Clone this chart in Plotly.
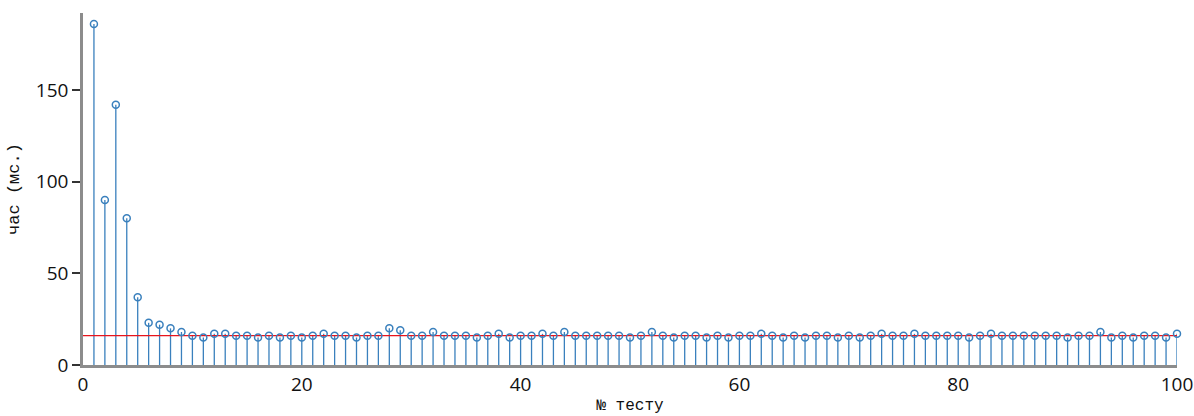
import plotly.graph_objects as go

test_no = list(range(1, 101))
time_ms = [186, 90, 142, 80, 37, 23, 22, 20, 18, 16,
           15, 17, 17, 16, 16, 15, 16, 15, 16, 15,
           16, 17, 16, 16, 15, 16, 16, 20, 19, 16,
           16, 18, 16, 16, 16, 15, 16, 17, 15, 16,
           16, 17, 16, 18, 16, 16, 16, 16, 16, 15,
           16, 18, 16, 15, 16, 16, 15, 16, 15, 16,
           16, 17, 16, 15, 16, 15, 16, 16, 15, 16,
           15, 16, 17, 16, 16, 17, 16, 16, 16, 16,
           15, 16, 17, 16, 16, 16, 16, 16, 16, 15,
           16, 16, 18, 15, 16, 15, 16, 16, 15, 17]
mean_level = 16
x_ticks = [0, 20, 40, 60, 80, 100]
y_ticks = [0, 50, 100, 150]

blue = "#3a80bd"

stem_x, stem_y = [], []
for xv, yv in zip(test_no, time_ms):
    stem_x += [xv, xv, None]
    stem_y += [0, yv, None]

fig = go.Figure()
fig.add_trace(go.Scatter(x=stem_x, y=stem_y, mode="lines",
                         line=dict(color=blue, width=1.3), hoverinfo="skip",
                         showlegend=False, cliponaxis=False))
fig.add_trace(go.Scatter(x=[0, 100], y=[mean_level, mean_level], mode="lines",
                         line=dict(color="#e8141c", width=1.2), showlegend=False))
fig.add_trace(go.Scatter(x=test_no, y=time_ms, mode="markers",
                         marker=dict(symbol="circle-open", size=7, color=blue,
                                     line=dict(width=1.5, color=blue)),
                         showlegend=False, cliponaxis=False))

fig.update_layout(
    width=1194, height=416,
    margin=dict(l=83, r=17, t=13, b=51, autoexpand=False),
    paper_bgcolor="white", plot_bgcolor="white",
    font=dict(family="Open Sans, sans-serif", size=18, color="#111"),
    xaxis=dict(range=[0, 100], tickvals=x_ticks, showgrid=False, zeroline=False,
               showline=True, linecolor="#8c8c8c", linewidth=2.5, automargin=False,
               ticks="", tickfont=dict(size=19),
               title=dict(text="№ тесту", standoff=4,
                          font=dict(family="Liberation Mono, monospace", size=16))),
    yaxis=dict(range=[0, 192], tickvals=y_ticks, showgrid=False, zeroline=False,
               showline=True, linecolor="#8c8c8c", linewidth=2.5, automargin=False,
               ticks="outside", ticklen=8, tickcolor="#333", tickwidth=1.5,
               tickfont=dict(size=19),
               title=dict(text="час (мс.)", standoff=12,
                          font=dict(family="Liberation Mono, monospace", size=17))),
)

fig.write_html("out.html",
               config={"displayModeBar": False},
               post_script="document.body.style.margin='0';document.body.style.overflow='hidden';")
